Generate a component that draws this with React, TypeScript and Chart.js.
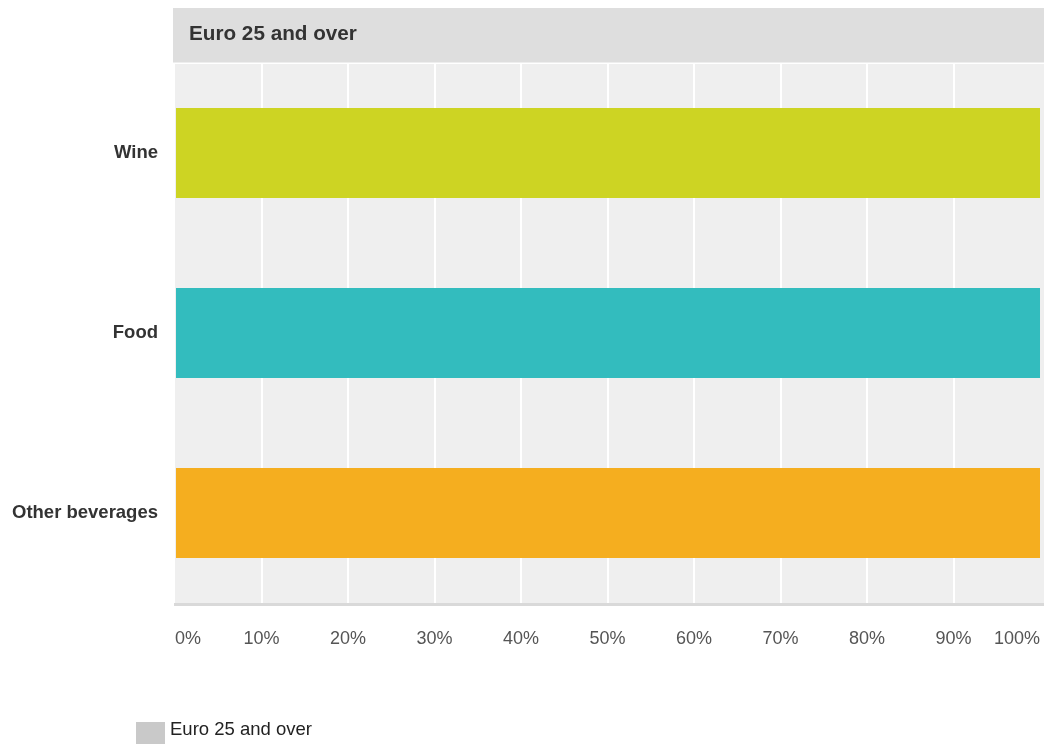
import React, { useEffect, useRef } from "react";
import { Chart, registerables } from "chart.js";

Chart.register(...registerables);

const categories = ["Wine", "Food", "Other beverages"];
const seriesName = "Euro 25 and over";
const seriesValues = [100, 100, 100];
const barColors = ["#cdd423", "#33bcbe", "#f5ae1f"];
const tickValues = [0, 10, 20, 30, 40, 50, 60, 70, 80, 90, 100];

const FONT = "'Liberation Sans', Arial, Helvetica, sans-serif";

const decorPlugin = {
  id: "decor",
  beforeDraw(chart: any) {
    const { ctx, chartArea, width } = chart;
    ctx.save();
    // header band
    ctx.fillStyle = "#dedede";
    ctx.fillRect(chartArea.left - 2, 8, width - chartArea.left + 2, 54.5);
    ctx.fillStyle = "#333333";
    ctx.font = `bold 20.7px ${FONT}`;
    ctx.textBaseline = "alphabetic";
    ctx.textAlign = "left";
    ctx.fillText(seriesName, chartArea.left + 14, 40);
    // plot background
    ctx.fillStyle = "#efefef";
    ctx.fillRect(chartArea.left, chartArea.top + 1, width - chartArea.left, chartArea.bottom - chartArea.top - 1);
    ctx.restore();
  },
  afterDraw(chart: any) {
    const { ctx, chartArea, width } = chart;
    ctx.save();
    // bottom border
    ctx.fillStyle = "#d9d9d9";
    ctx.fillRect(chartArea.left - 1, chartArea.bottom, width - chartArea.left + 1, 3);
    // legend
    ctx.fillStyle = "#c9c9c9";
    ctx.fillRect(136, 722, 29, 24);
    ctx.fillStyle = "#222222";
    ctx.font = `18.5px ${FONT}`;
    ctx.textBaseline = "alphabetic";
    ctx.textAlign = "left";
    ctx.fillText(seriesName, 170, 735);
    ctx.restore();
  },
};

export default function App() {
  const ref = useRef<HTMLCanvasElement | null>(null);

  useEffect(() => {
    if (!ref.current) return;
    const chart = new Chart(ref.current, {
      type: "bar",
      data: {
        labels: categories,
        datasets: [
          {
            label: seriesName,
            data: seriesValues,
            backgroundColor: barColors,
            borderWidth: 0,
            categoryPercentage: 1,
            barPercentage: 0.5,
          },
        ],
      },
      options: {
        indexAxis: "y",
        animation: false,
        responsive: false,
        maintainAspectRatio: false,
        layout: { padding: { top: 63, right: 4, bottom: 0, left: 0 } },
        plugins: {
          legend: { display: false },
          title: { display: false },
          tooltip: { enabled: false },
        },
        scales: {
          x: {
            type: "linear",
            position: "bottom",
            min: 0,
            max: 100,
            afterFit: (scale: any) => {
              scale.height = 141;
              scale.paddingLeft = 0;
              scale.paddingRight = 0;
            },
            afterBuildTicks: (scale: any) => {
              scale.ticks = tickValues.map((v) => ({ value: v }));
            },
            ticks: {
              align: "inner",
              padding: 25,
              color: "#555555",
              font: { family: FONT, size: 18 },
              callback: (v: any) => `${v}%`,
              maxRotation: 0,
              autoSkip: false,
            },
            grid: {
              drawTicks: false,
              lineWidth: 2,
              color: (c: any) =>
                c.tick && (c.tick.value === 0 || c.tick.value === 100) ? "rgba(0,0,0,0)" : "#ffffff",
            },
            border: { display: false },
          },
          y: {
            type: "category",
            afterFit: (scale: any) => {
              scale.width = 175;
              scale.paddingTop = 0;
              scale.paddingBottom = 0;
            },
            ticks: {
              padding: 17,
              color: "#333333",
              font: { family: FONT, size: 18.5, weight: "bold" },
            },
            grid: { display: false, drawTicks: false },
            border: { display: false },
          },
        },
      },
      plugins: [decorPlugin],
    } as any);
    return () => chart.destroy();
  }, []);

  return (
    <div style={{ position: "absolute", left: 0, top: 0, width: 1044, height: 744, overflow: "hidden" }}>
      <canvas ref={ref} width={1044} height={744} style={{ display: "block", width: 1044, height: 744 }} />
    </div>
  );
}
